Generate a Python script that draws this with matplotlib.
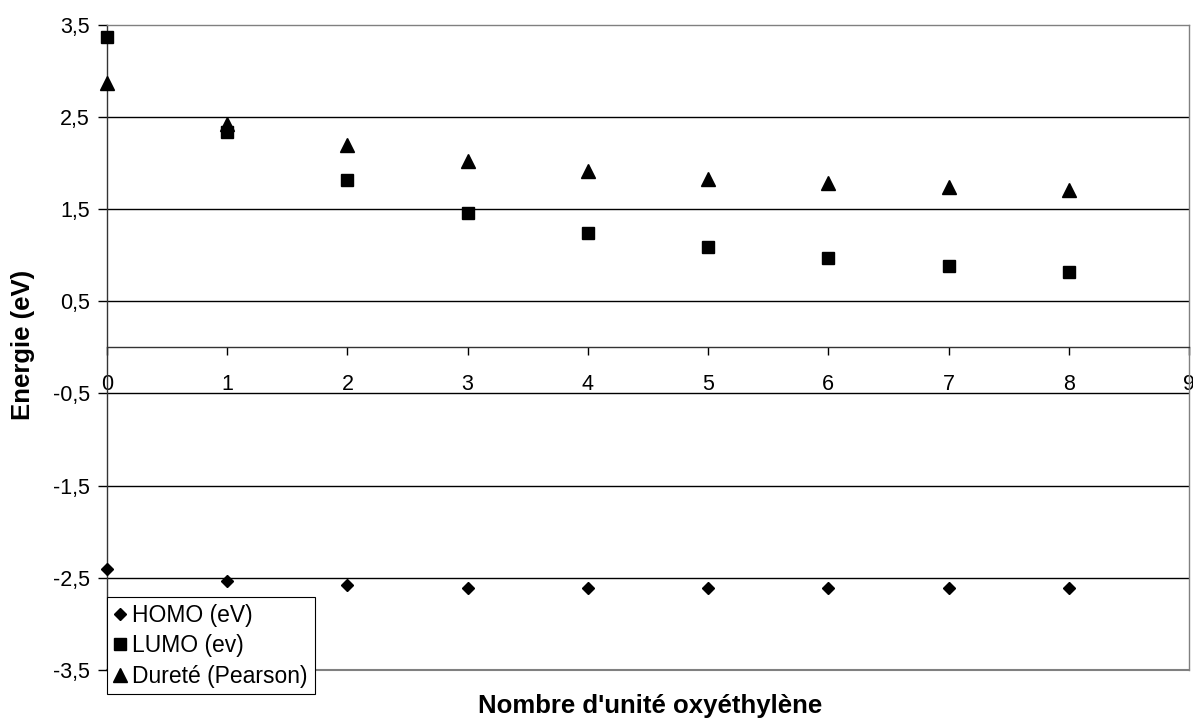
import matplotlib
matplotlib.use("Agg")
import matplotlib.pyplot as plt

plt.rcParams['font.family'] = ['Liberation Sans', 'DejaVu Sans']

# nombre d'unites oxyethylene
n_units = [0, 1, 2, 3, 4, 5, 6, 7, 8]
homo = [-2.40, -2.53, -2.58, -2.61, -2.61, -2.61, -2.61, -2.61, -2.61]
lumo = [3.37, 2.34, 1.81, 1.46, 1.24, 1.09, 0.97, 0.88, 0.82]
durete = [2.87, 2.42, 2.19, 2.02, 1.91, 1.83, 1.78, 1.74, 1.71]

yticks = [-3.5, -2.5, -1.5, -0.5, 0.5, 1.5, 2.5, 3.5]
ytick_labels = ["-3,5", "-2,5", "-1,5", "-0,5", "0,5", "1,5", "2,5", "3,5"]
xticks = [0, 1, 2, 3, 4, 5, 6, 7, 8, 9]

W, H = 1193, 725
fig = plt.figure(figsize=(W / 100, H / 100), dpi=100)
ax = fig.add_axes([107 / W, 1 - 670 / H, (1189 - 107) / W, (670 - 24.7) / H])

ax.plot(n_units, homo, linestyle='none', marker='D', markersize=6.4, color='black',
        label='HOMO (eV)', clip_on=False, zorder=3)
ax.plot(n_units, lumo, linestyle='none', marker='s', markersize=9.2, color='black',
        label='LUMO (ev)', clip_on=False, zorder=3)
ax.plot(n_units, durete, linestyle='none', marker='^', markersize=9.4, color='black',
        label='Dureté (Pearson)', clip_on=False, zorder=3)

ax.set_xlim(0, 9)
ax.set_ylim(-3.5, 3.5)
ax.set_yticks(yticks)
ax.set_yticklabels(ytick_labels)
ax.set_xticks(xticks)

# grid
ax.yaxis.grid(True, color='black', linewidth=1.0)
gls = ax.get_ygridlines()
gls[0].set_visible(False)
gls[-1].set_visible(False)
ax.set_axisbelow(True)

# axes: x axis crosses at y = 0
ax.spines['bottom'].set_position(('data', 0))
ax.spines['bottom'].set_color('#333333')
ax.spines['left'].set_color('#333333')
ax.spines['top'].set_color('#808080')
ax.spines['right'].set_color('#808080')
for s in ax.spines.values():
    s.set_linewidth(1.0)
ax.axhline(-3.5, color='#808080', linewidth=1.5, clip_on=False, zorder=0)

ax.tick_params(axis='y', direction='out', length=6.5, width=1, labelsize=15.5, pad=6, colors='black')
ax.tick_params(axis='x', direction='out', length=6, width=1, labelsize=15.5, pad=13, colors='black')

fig.text(650 / W, 1 - 706 / H, "Nombre d'unité oxyéthylène", ha='center', va='center',
         fontsize=18.5, fontweight='bold')
fig.text(23 / W, 1 - 345 / H, "Energie (eV)", ha='center', va='center', rotation=90,
         fontsize=18.5, fontweight='bold')

leg = ax.legend(loc='upper left', bbox_to_anchor=(107 / W, 1 - 597 / H), bbox_transform=fig.transFigure,
                fontsize=16.5, frameon=True, fancybox=False, edgecolor='black', framealpha=1,
                borderaxespad=0, handlelength=0.5, handletextpad=0.3, labelspacing=0.32,
                borderpad=0.3, markerscale=1.0)
leg.get_frame().set_linewidth(0.8)
leg.set_zorder(5)

fig.savefig("out.png", dpi=100)
